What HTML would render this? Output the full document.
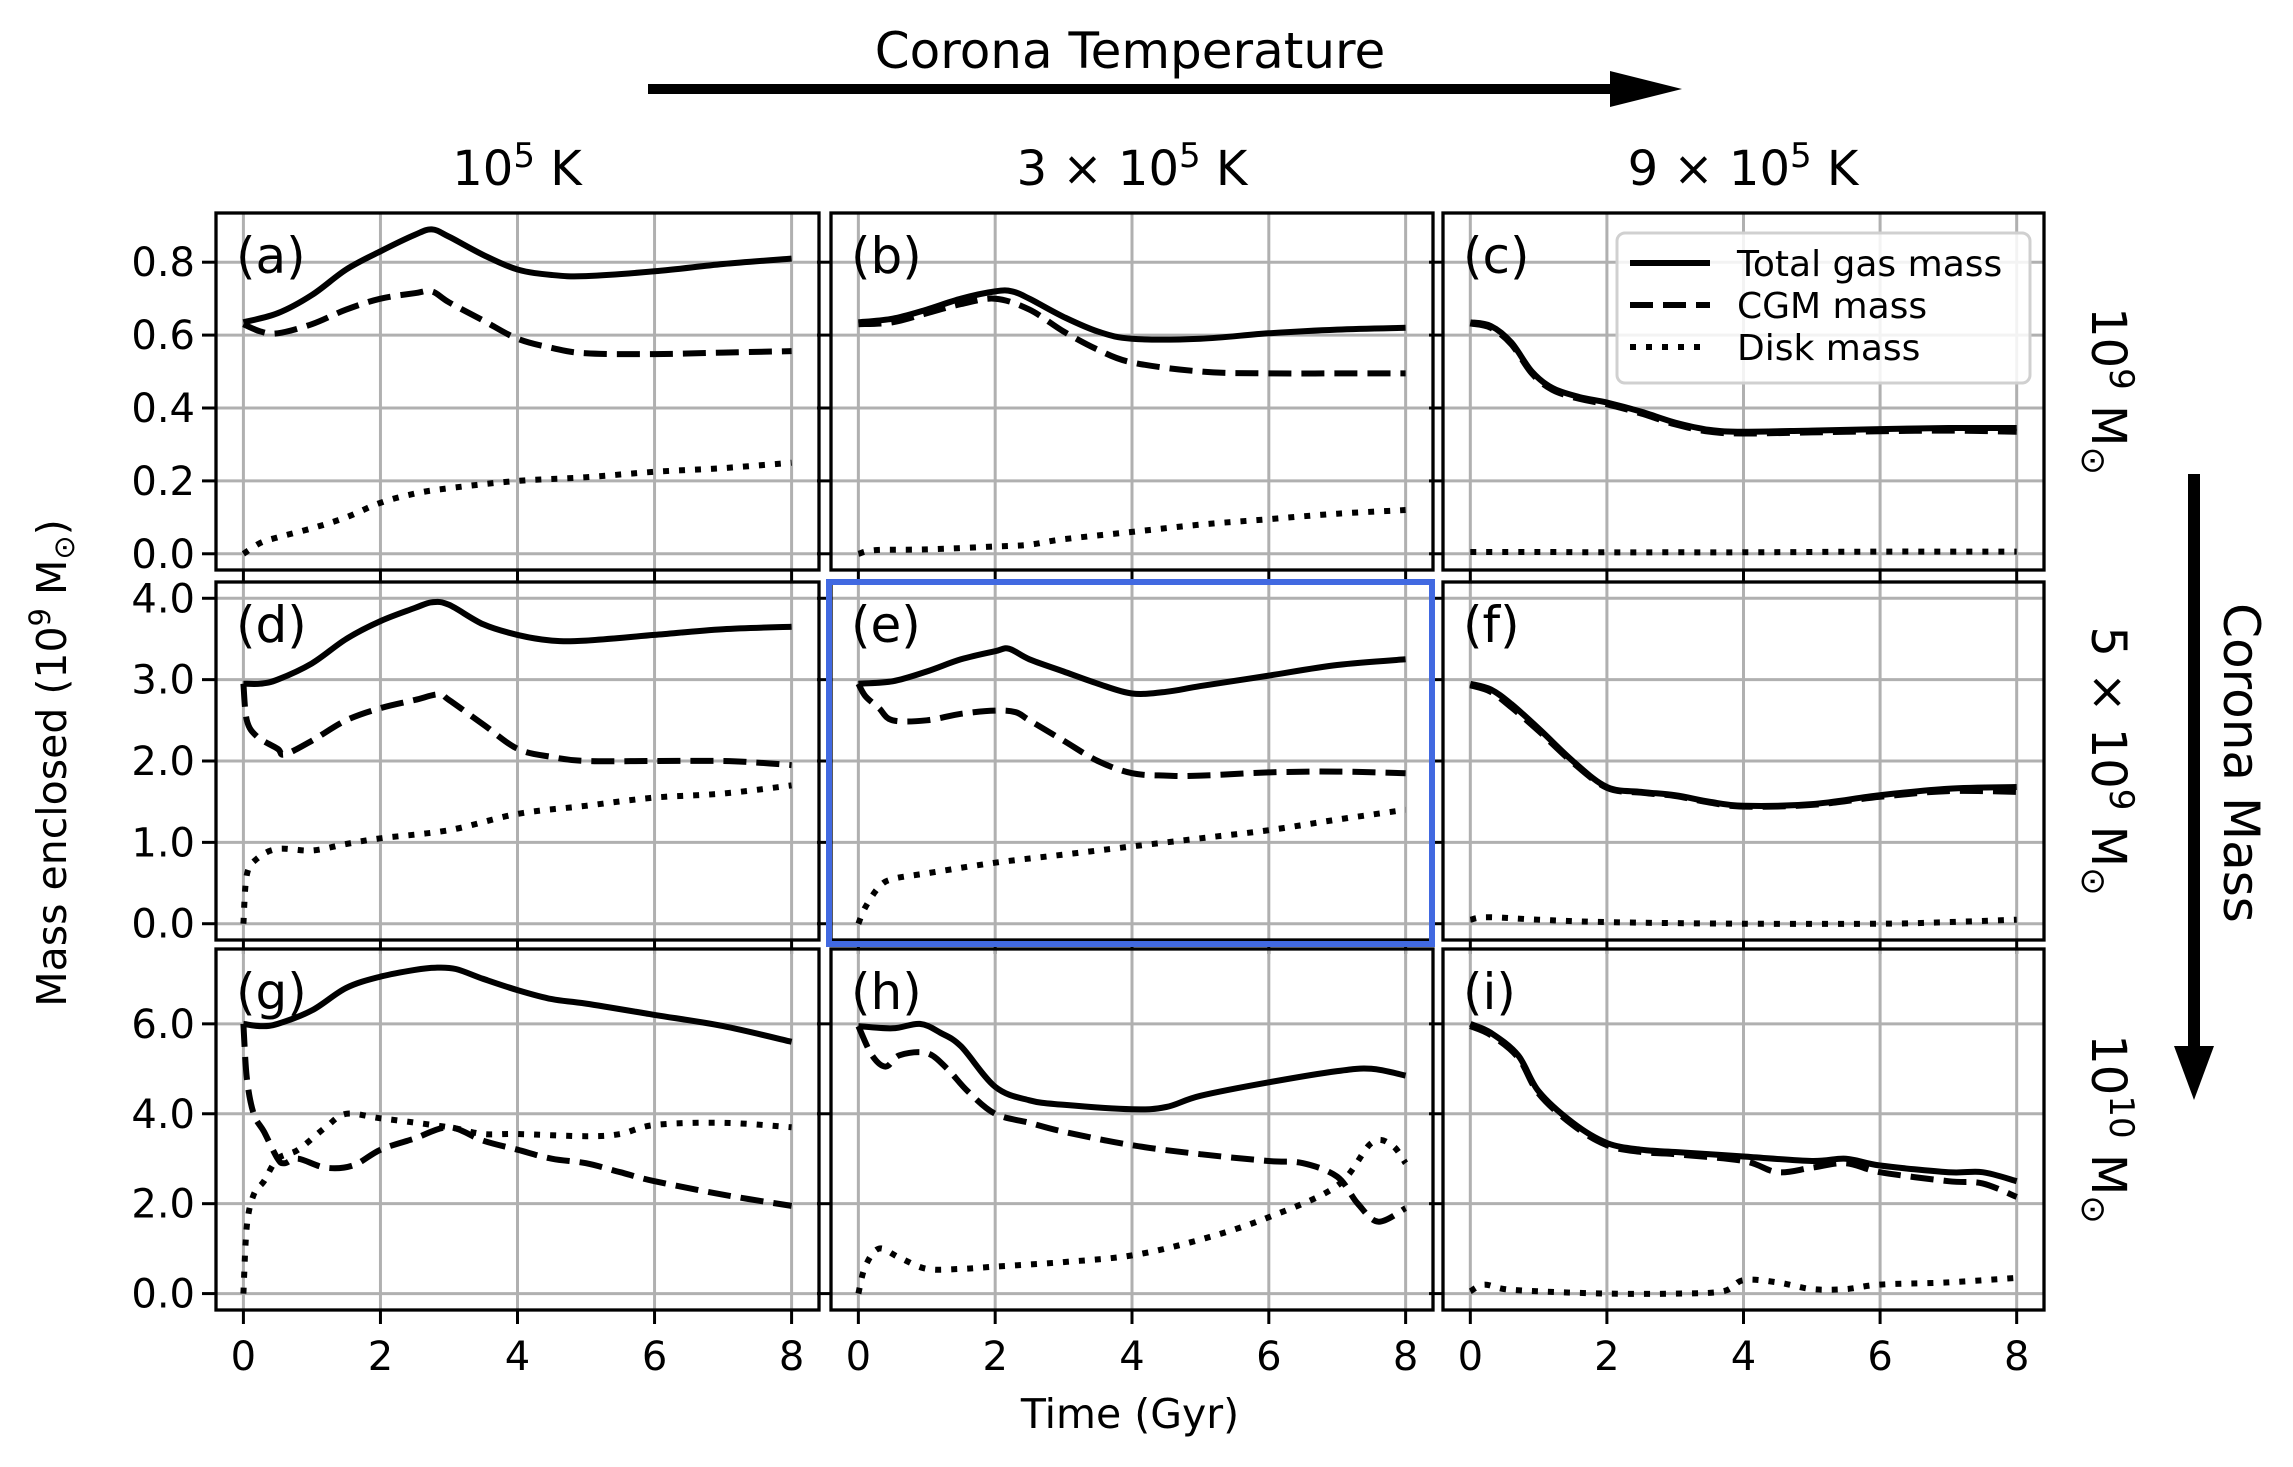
<!DOCTYPE html>
<html><head><meta charset="utf-8"><style>
html,body{margin:0;padding:0;background:#fff;}
svg{display:block;font-family:"DejaVu Sans","Liberation Sans",sans-serif;}
</style></head><body>
<svg id="fig" width="2293" height="1467" viewBox="0 0 2293 1467" xmlns="http://www.w3.org/2000/svg">
<rect width="2293" height="1467" fill="#fff"/>
<g id="annot">
  <text x="1130" y="68" font-size="50" text-anchor="middle">Corona Temperature</text>
  <line x1="648" y1="89" x2="1615" y2="89" stroke="#000" stroke-width="10"/>
  <polygon points="1610,71 1682,89 1610,107" fill="#000"/>
  <text x="517" y="185" font-size="48" text-anchor="middle">10<tspan font-size="34" dy="-18">5</tspan><tspan dy="18"> K</tspan></text>
  <text x="1132" y="185" font-size="48" text-anchor="middle">3 × 10<tspan font-size="34" dy="-18">5</tspan><tspan dy="18"> K</tspan></text>
  <text x="1743" y="185" font-size="48" text-anchor="middle">9 × 10<tspan font-size="34" dy="-18">5</tspan><tspan dy="18"> K</tspan></text>
  <g transform="translate(2092,391) rotate(90)"><text x="0" y="0" font-size="48" text-anchor="middle">10<tspan font-size="34" dy="-18">9</tspan><tspan dy="18"> M</tspan><tspan font-size="34" dy="10">⊙</tspan></text></g>
  <g transform="translate(2092,761) rotate(90)"><text x="0" y="0" font-size="48" text-anchor="middle">5 × 10<tspan font-size="34" dy="-18">9</tspan><tspan dy="18"> M</tspan><tspan font-size="34" dy="10">⊙</tspan></text></g>
  <g transform="translate(2092,1129) rotate(90)"><text x="0" y="0" font-size="48" text-anchor="middle">10<tspan font-size="34" dy="-18">10</tspan><tspan dy="18"> M</tspan><tspan font-size="34" dy="10">⊙</tspan></text></g>
  <line x1="2194" y1="474" x2="2194" y2="1050" stroke="#000" stroke-width="12"/>
  <polygon points="2174,1046 2214,1046 2194,1100" fill="#000"/>
  <g transform="translate(2224,763) rotate(90)"><text x="0" y="0" font-size="50" text-anchor="middle">Corona Mass</text></g>
  <g transform="translate(66,763) rotate(-90)"><text x="0" y="0" font-size="41" text-anchor="middle">Mass enclosed (10<tspan font-size="29" dy="-16">9</tspan><tspan dy="16"> M</tspan><tspan font-size="29" dy="8">⊙</tspan><tspan dy="-8">)</tspan></text></g>
  <text x="1130" y="1428" font-size="41" text-anchor="middle">Time (Gyr)</text>
</g>
</svg>
<script>
// ---- data (Gyr, 1e9 Msun) ----
const aTotT=[0,0.5,1,1.5,2,2.5,2.75,3,3.5,4,4.5,5,6,7,8];
const aTotV=[0.635,0.66,0.71,0.78,0.83,0.875,0.89,0.87,0.82,0.78,0.765,0.762,0.775,0.795,0.81];
const aCgmT=[0,0.25,0.5,1,1.5,2,2.5,2.75,3,3.5,4,4.5,5,6,7,8];
const aCgmV=[0.63,0.61,0.605,0.63,0.67,0.70,0.715,0.72,0.69,0.64,0.59,0.565,0.55,0.548,0.552,0.556];
const aDskT=[0,0.25,0.5,1,1.5,2,2.5,3,4,5,6,7,8];
const aDskV=[0,0.03,0.045,0.07,0.1,0.14,0.165,0.18,0.2,0.21,0.225,0.235,0.25];

const bTotT=[0,0.5,1,1.5,2,2.25,2.5,3,3.5,4,5,6,7,8];
const bTotV=[0.635,0.645,0.67,0.70,0.72,0.72,0.70,0.65,0.61,0.59,0.59,0.605,0.615,0.62];
const bCgmT=[0,0.5,1,1.5,2,2.5,3,3.5,4,5,6,7,8];
const bCgmV=[0.63,0.635,0.66,0.685,0.70,0.67,0.61,0.56,0.525,0.50,0.495,0.495,0.495];
const bDskT=[0,0.25,1,2,2.5,3,4,5,6,7,8];
const bDskV=[0,0.01,0.012,0.02,0.025,0.04,0.06,0.08,0.095,0.11,0.12];

const cTotT=[0,0.3,0.6,0.9,1.2,1.6,2,2.5,3,3.5,4,5,6,7,8];
const cTotV=[0.635,0.625,0.58,0.50,0.455,0.43,0.415,0.39,0.36,0.34,0.335,0.338,0.342,0.345,0.345];
const cCgmT=[0,0.3,0.6,0.9,1.2,1.6,2,2.5,3,3.5,4,5,6,7,8];
const cCgmV=[0.632,0.62,0.575,0.495,0.45,0.425,0.41,0.385,0.355,0.335,0.33,0.333,0.336,0.338,0.335];
const cDskT=[0,1,2,3,4,5,6,7,8];
const cDskV=[0.005,0.005,0.004,0.004,0.004,0.005,0.006,0.006,0.006];

const dTotT=[0,0.25,0.5,1,1.5,2,2.5,2.75,3,3.5,4,4.5,5,6,7,8];
const dTotV=[2.95,2.95,3.0,3.2,3.5,3.72,3.88,3.95,3.92,3.68,3.55,3.48,3.48,3.55,3.62,3.65];
const dCgmT=[0,0.05,0.2,0.5,0.6,1,1.5,2,2.5,2.85,3,3.5,4,4.5,5,6,7,7.5,8];
const dCgmV=[2.95,2.5,2.3,2.15,2.08,2.25,2.5,2.65,2.75,2.82,2.75,2.45,2.15,2.05,2.0,2.0,2.0,1.98,1.95];
const dDskT=[0,0.05,0.2,0.5,1,1.5,2,3,4,5,6,7,8];
const dDskV=[0,0.6,0.8,0.92,0.9,0.98,1.05,1.15,1.35,1.45,1.55,1.6,1.7];

const eTotT=[0,0.5,1,1.5,2,2.2,2.5,3,3.5,4,4.5,5,6,7,8];
const eTotV=[2.95,2.98,3.1,3.25,3.35,3.38,3.25,3.1,2.95,2.83,2.85,2.92,3.05,3.18,3.25];
const eCgmT=[0,0.1,0.3,0.5,1,1.5,2,2.3,2.5,3,3.5,4,4.5,5,6,7,8];
const eCgmV=[2.95,2.8,2.65,2.5,2.5,2.58,2.62,2.6,2.5,2.25,2.0,1.85,1.82,1.82,1.86,1.87,1.85];
const eDskT=[0,0.1,0.3,0.5,1,2,3,4,5,6,7,8];
const eDskV=[0,0.2,0.45,0.55,0.62,0.75,0.85,0.95,1.05,1.15,1.28,1.4];

const fTotT=[0,0.3,0.6,1,1.5,2,2.5,3,3.5,4,5,6,7,8];
const fTotV=[2.95,2.88,2.7,2.4,2.0,1.68,1.62,1.58,1.5,1.45,1.47,1.58,1.66,1.68];
const fCgmT=[0,0.3,0.6,1,1.5,2,2.5,3,3.5,4,5,6,7,8];
const fCgmV=[2.93,2.85,2.66,2.37,1.98,1.67,1.61,1.57,1.49,1.44,1.46,1.56,1.63,1.62];
const fDskT=[0,0.25,1,2,4,6,7,8];
const fDskV=[0.05,0.08,0.05,0.02,0.0,0.0,0.02,0.05];

const gTotT=[0,0.25,0.5,1,1.5,2,2.5,2.8,3.1,3.5,4,4.5,5,6,7,8];
const gTotV=[6.0,5.95,6.0,6.3,6.8,7.05,7.2,7.25,7.22,7.0,6.75,6.55,6.45,6.2,5.95,5.6];
const gCgmT=[0,0.05,0.15,0.3,0.5,0.6,0.8,1.2,1.6,2,2.5,3,3.5,4,4.5,5,5.5,6,7,8];
const gCgmV=[6.0,4.8,4.0,3.6,3.0,2.9,3.0,2.8,2.85,3.2,3.45,3.7,3.4,3.2,3.0,2.9,2.7,2.5,2.2,1.95];
const gDskT=[0,0.05,0.15,0.3,0.5,0.8,1.2,1.5,2,3,3.5,4,5,5.5,6,7,8];
const gDskV=[0,1.5,2.2,2.5,3.0,3.2,3.7,4.0,3.9,3.7,3.55,3.55,3.5,3.55,3.75,3.8,3.7];

const hTotT=[0,0.5,0.9,1.2,1.5,2,2.5,3,4,4.5,5,6,7,7.5,8];
const hTotV=[5.95,5.9,6.0,5.8,5.5,4.6,4.3,4.2,4.1,4.15,4.4,4.7,4.95,5.0,4.85];
const hCgmT=[0,0.2,0.4,0.6,1,1.3,1.6,2,2.5,3,4,5,6,6.5,7,7.3,7.6,8];
const hCgmV=[5.95,5.3,5.05,5.3,5.35,5.0,4.5,4.0,3.8,3.6,3.3,3.1,2.95,2.9,2.6,2.0,1.6,1.9];
const hDskT=[0,0.1,0.3,0.6,1,1.5,2,3,4,5,6,7,7.5,7.8,8];
const hDskV=[0,0.6,1.0,0.8,0.55,0.55,0.6,0.7,0.85,1.2,1.7,2.4,3.35,3.3,2.9];

const iTotT=[0,0.3,0.7,1,1.5,2,2.5,3,4,5,5.5,6,7,7.5,8];
const iTotV=[6.0,5.8,5.3,4.5,3.8,3.35,3.2,3.15,3.05,2.95,3.0,2.85,2.7,2.7,2.5];
const iCgmT=[0,0.3,0.7,1,1.5,2,2.5,3,4,4.5,5,5.5,6,7,7.5,8];
const iCgmV=[5.95,5.75,5.25,4.45,3.75,3.3,3.15,3.1,2.95,2.7,2.8,2.9,2.7,2.5,2.45,2.15];
const iDskT=[0,0.2,0.5,1,2,3,3.7,4,4.5,5,5.5,6,7,8];
const iDskV=[0.05,0.2,0.1,0.05,0.0,0.0,0.05,0.3,0.25,0.1,0.1,0.2,0.25,0.35];

const xTicks=[0,2,4,6,8];
const row1Ticks=[0,0.2,0.4,0.6,0.8];
const row1Labels=["0.0","0.2","0.4","0.6","0.8"];
const row2Ticks=[0,1,2,3,4];
const row2Labels=["0.0","1.0","2.0","3.0","4.0"];
const row3Ticks=[0,2,4,6];
const row3Labels=["0.0","2.0","4.0","6.0"];
const panelLetters=["(a)","(b)","(c)","(d)","(e)","(f)","(g)","(h)","(i)"];
const legendLabels=["Total gas mass","CGM mass","Disk mass"];

// ---- layout ----
const NS="http://www.w3.org/2000/svg";
const svg=document.getElementById('fig');
const colX=[[216,819],[831,1433],[1443,2044]];
const rowY=[[213,570],[582,940],[949,1310]];
const rowLim=[[-0.0445,0.935],[-0.2,4.2],[-0.365,7.665]];
const rowTicks=[row1Ticks,row2Ticks,row3Ticks];
const rowLabels=[row1Labels,row2Labels,row3Labels];
const xLim=[-0.4,8.4];
const series=[
 [[aTotT,aTotV],[aCgmT,aCgmV],[aDskT,aDskV]],
 [[bTotT,bTotV],[bCgmT,bCgmV],[bDskT,bDskV]],
 [[cTotT,cTotV],[cCgmT,cCgmV],[cDskT,cDskV]],
 [[dTotT,dTotV],[dCgmT,dCgmV],[dDskT,dDskV]],
 [[eTotT,eTotV],[eCgmT,eCgmV],[eDskT,eDskV]],
 [[fTotT,fTotV],[fCgmT,fCgmV],[fDskT,fDskV]],
 [[gTotT,gTotV],[gCgmT,gCgmV],[gDskT,gDskV]],
 [[hTotT,hTotV],[hCgmT,hCgmV],[hDskT,hDskV]],
 [[iTotT,iTotV],[iCgmT,iCgmV],[iDskT,iDskV]]
];
const LW=6;
const dashes=["none","23 10","6 10"];
const seriesNames=["total-gas-line","cgm-line","disk-line"];

function mk(tag,attrs,parent){const e=document.createElementNS(NS,tag);for(const k in attrs)e.setAttribute(k,attrs[k]);(parent||svg).appendChild(e);return e;}
function smoothPath(pts){
  if(pts.length<2)return '';
  let d='M'+pts[0][0].toFixed(1)+','+pts[0][1].toFixed(1);
  for(let i=0;i<pts.length-1;i++){
    const p0=pts[Math.max(0,i-1)],p1=pts[i],p2=pts[i+1],p3=pts[Math.min(pts.length-1,i+2)];
    const c1=[p1[0]+(p2[0]-p0[0])/6,p1[1]+(p2[1]-p0[1])/6];
    const c2=[p2[0]-(p3[0]-p1[0])/6,p2[1]-(p3[1]-p1[1])/6];
    d+='C'+c1[0].toFixed(1)+','+c1[1].toFixed(1)+' '+c2[0].toFixed(1)+','+c2[1].toFixed(1)+' '+p2[0].toFixed(1)+','+p2[1].toFixed(1);
  }
  return d;
}

for(let r=0;r<3;r++){
  for(let c=0;c<3;c++){
    const idx=r*3+c;
    const [x0,x1]=colX[c],[y0,y1]=rowY[r],[lo,hi]=rowLim[r];
    const sx=t=>x0+(t-xLim[0])/(xLim[1]-xLim[0])*(x1-x0);
    const sy=v=>y1-(v-lo)/(hi-lo)*(y1-y0);
    const g=mk('g',{});
    
    
    const clipId='clip'+idx;
    const cp=mk('clipPath',{id:clipId},g);
    mk('rect',{x:x0,y:y0,width:x1-x0,height:y1-y0},cp);
    for(const t of xTicks){
      const gl=mk('line',{x1:sx(t),x2:sx(t),y1:y0,y2:y1,stroke:'#b0b0b0','stroke-width':3},g);
      
      
      const tk=mk('line',{x1:sx(t),x2:sx(t),y1:y1,y2:y1+14,stroke:'#000','stroke-width':3},g);
      
      
      if(r===2){
        const tl=mk('text',{x:sx(t),y:1370,'font-size':40,'text-anchor':'middle'},g);
        tl.textContent=String(t);
        
        
      }
    }
    rowTicks[r].forEach((v,k)=>{
      const gl=mk('line',{x1:x0,x2:x1,y1:sy(v),y2:sy(v),stroke:'#b0b0b0','stroke-width':3},g);
      
      
      const tk=mk('line',{x1:x0-14,x2:x0,y1:sy(v),y2:sy(v),stroke:'#000','stroke-width':3},g);
      
      
      if(c===0){
        const tl=mk('text',{x:x0-21,y:sy(v)+14,'font-size':40,'text-anchor':'end'},g);
        tl.textContent=rowLabels[r][k];
        
        
      }
    });
    const sg=mk('g',{'clip-path':'url(#'+clipId+')'},g);
    series[idx].forEach((s,k)=>{
      const pts=s[0].map((t,j)=>[sx(t),sy(s[1][j])]);
      const p=mk('path',{d:smoothPath(pts),fill:'none',stroke:'#000','stroke-width':LW,'stroke-linejoin':'round','stroke-dasharray':dashes[k]},sg);
      
      
    });
    const fr=mk('rect',{x:x0,y:y0,width:x1-x0,height:y1-y0,fill:'none',stroke:'#000','stroke-width':3.3},g);
    
    
    const pl=mk('text',{x:x0+20,y:y0+60,'font-size':50},g);
    pl.textContent=panelLetters[idx];
    
    
  }
}
const hb=mk('rect',{x:829,y:582,width:603,height:362,fill:'none',stroke:'#4169e1','stroke-width':6});


const lg=mk('g',{});


mk('rect',{x:1617,y:233,width:413,height:150,rx:8,fill:'#fff','fill-opacity':0.85,stroke:'#d0d0d0','stroke-width':3},lg);
legendLabels.forEach((lab,k)=>{
  const y=263+k*42;
  const ln=mk('line',{x1:1630,x2:1710,y1:y,y2:y,stroke:'#000','stroke-width':LW,'stroke-dasharray':dashes[k]},lg);
  
  
  const tx=mk('text',{x:1737,y:y+13,'font-size':36},lg);
  tx.textContent=lab;
  
  
});
</script>
</body></html>
